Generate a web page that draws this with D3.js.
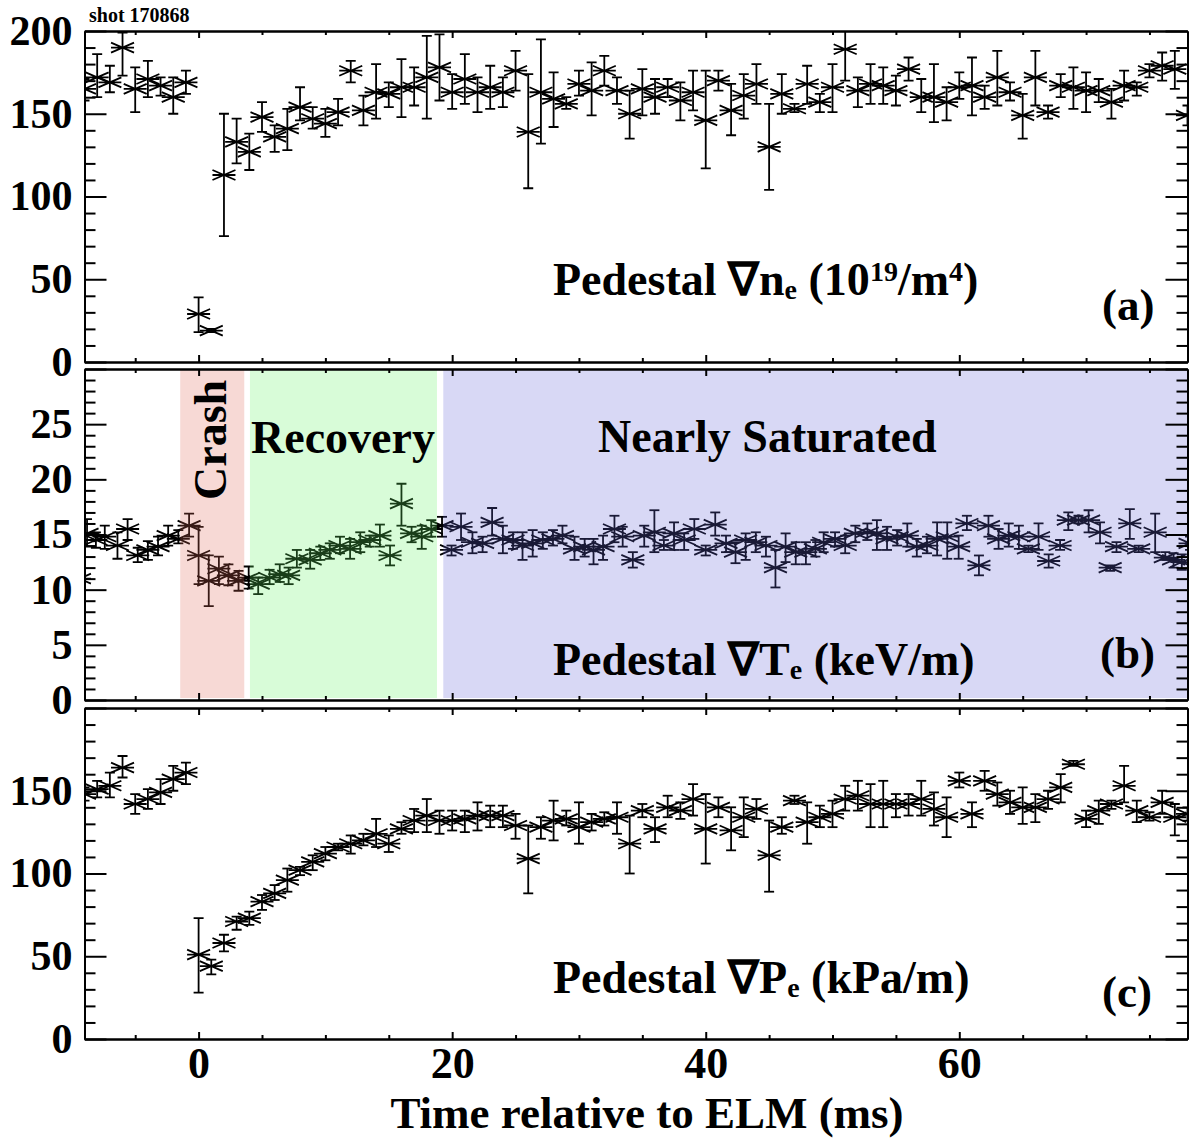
<!DOCTYPE html>
<html>
<head>
<meta charset="utf-8">
<script src="https://cdn.jsdelivr.net/npm/d3@7"></script>
<style>
  body { margin: 0; background: #fff; }
  text { font-family: "Liberation Serif", "Times New Roman", serif; font-weight: bold; }
</style>
</head>
<body>
<div id="chart"></div>
<script>
// ---- data ----
const timeDomain = [-9, 78];

// panels (a) and (c): one sample per ms
const timeAC = [-9,-8,-7,-6,-5,-4,-3,-2,-1,0,1,2,3,4,5,6,7,8,9,10,11,12,13,14,15,16,17,18,19,
  20,21,22,23,24,25,26,27,28,29,30,31,32,33,34,35,36,37,38,39,40,41,42,43,44,45,46,47,48,49,
  50,51,52,53,54,55,56,57,58,59,60,61,62,63,64,65,66,67,68,69,70,71,72,73,74,75,76,77,78];

// Pedestal grad ne (10^19/m^4)
const neVal = [165,172,169,190,165,171,167,160,169,
  29,19,113,133,127,148,136,141,154,147,
  144,151,176,152,163,162,166,166,172,178,
  163,171,163,166,163,176,139,163,159,156,
  168,164,176,164,150,165,160,166,158,163,
  146,170,152,161,168,130,162,153,168,157,
  166,189,164,168,167,164,177,160,160,157,
  166,167,160,172,163,149,172,151,167,166,
  164,164,157,167,166,176,179,177,149];
const neHi = [171,186,179,199,178,182,172,172,176,
  39,20,150,147,138,157,143,153,166,154,
  153,159,182,161,180,169,183,178,197,198,
  174,186,172,179,172,188,174,195,175,160,
  176,181,185,172,164,177,171,171,169,176,
  176,176,168,174,180,156,174,156,179,162,
  180,200,172,180,178,173,184,171,180,166,
  175,184,167,188,169,162,188,155,174,178,
  175,171,165,176,169,180,187,188,155];
const neLo = [158,160,163,173,151,160,161,150,162,
  18,18,76,120,116,139,127,128,146,141,
  136,143,169,143,147,154,148,155,147,158,
  153,156,151,153,154,164,105,132,142,153,
  161,149,167,156,135,149,150,160,146,152,
  117,164,137,147,156,104,150,151,156,151,
  151,170,154,156,156,155,170,151,145,146,
  159,149,153,155,158,135,155,147,160,153,
  151,157,147,158,161,172,170,165,143];

// Pedestal grad Te (keV/m), denser sampling
const timeB = [-9.4,-8.8,-8.1,-7.4,-6.4,-5.6,-4.8,-4.0,-3.2,-2.4,
  -1.6,-0.75,0.0,0.8,1.6,2.35,3.15,3.95,4.7,5.6,
  6.4,7.1,7.75,8.8,9.6,10.35,11.15,11.95,12.75,13.5,
  14.3,15.1,16.0,16.8,17.6,18.35,19.2,19.95,20.7,21.6,
  22.4,23.15,24.0,24.8,25.55,26.35,27.15,27.95,28.7,29.65,
  30.45,31.15,31.9,32.8,33.45,34.25,35.15,35.95,36.7,37.5,
  38.3,39.1,40.0,40.75,41.6,42.35,43.15,43.95,44.75,45.5,
  46.3,47.1,47.9,48.65,49.3,50.2,51.0,51.8,52.75,53.5,
  54.3,55.1,55.9,56.65,57.45,58.25,59.05,59.95,60.6,61.55,
  62.3,63.1,63.9,64.7,65.45,66.25,67.05,67.95,68.6,69.4,
  70.2,71.1,71.9,72.4,73.45,74.15,75.45,76.25,76.9,77.55,
  78.2];
const teVal = [11.0,15.1,14.5,14.8,14.0,15.5,13.1,13.6,13.9,14.9,
  14.6,15.8,13.1,10.8,11.9,11.3,10.8,11.1,10.5,11.1,
  11.4,11.3,12.8,12.7,13.3,13.6,14.0,13.7,14.3,14.5,
  14.9,13.1,17.8,15.1,14.8,15.5,15.8,13.6,15.7,14.3,
  14.2,16.1,14.6,14.5,14.0,14.2,14.5,14.6,14.9,13.7,
  13.9,13.6,13.9,15.5,14.8,12.7,14.9,15.2,14.0,15.1,
  14.5,15.5,13.6,15.9,14.2,13.4,14.5,14.3,14.0,12.0,
  13.9,13.4,13.4,13.7,14.3,14.6,14.0,15.1,15.2,15.1,
  14.6,14.8,14.9,13.9,14.0,14.6,14.8,13.9,16.0,12.2,
  15.8,14.6,14.9,14.8,13.7,14.8,12.6,14.0,16.3,16.3,
  16.3,15.2,12.0,13.9,16.0,13.7,15.2,12.9,12.7,12.5,
  14.2];
const teHi = [11.3,16.4,15.2,15.8,15.2,16.4,13.8,14.4,14.8,15.8,
  15.4,16.9,15.7,13.1,13.0,12.3,11.7,12.1,11.1,11.8,
  12.3,12.0,13.6,13.6,13.9,14.2,14.8,14.6,15.2,14.9,
  15.9,14.0,19.6,15.7,15.8,16.3,16.6,14.0,16.9,15.2,
  14.8,17.4,15.8,15.2,15.2,15.4,15.2,15.4,15.8,14.8,
  14.6,14.6,14.9,16.7,15.7,13.4,15.8,17.2,14.5,16.1,
  15.1,16.4,14.0,17.0,14.9,14.3,15.1,15.2,14.8,13.6,
  15.1,14.3,14.3,14.5,15.2,15.2,14.9,15.8,16.0,16.3,
  15.7,15.4,16.0,14.6,14.8,16.1,16.1,14.9,16.7,13.1,
  16.7,15.5,16.0,15.8,14.0,16.0,13.2,14.5,17.0,16.7,
  17.2,16.1,12.2,14.3,17.3,14.0,16.9,13.4,13.3,13.2,
  14.8];
const teLo = [10.7,13.9,13.8,13.7,12.8,14.5,12.5,12.7,13.1,14.0,
  14.2,14.8,10.5,8.5,10.5,10.4,9.9,10.1,9.6,10.5,
  10.7,10.5,12.0,11.9,12.7,12.8,13.3,12.8,13.4,13.9,
  13.9,12.2,15.8,14.3,13.7,14.8,14.8,13.1,14.5,13.3,
  13.4,14.9,13.3,13.7,12.7,13.0,13.7,14.0,14.2,12.7,
  13.0,12.3,12.7,14.3,13.9,12.0,13.9,13.4,13.6,13.6,
  13.6,14.6,13.1,14.9,13.4,12.4,12.7,13.4,13.0,10.2,
  12.5,12.3,12.3,13.0,13.4,13.9,13.3,14.3,14.5,13.6,
  13.6,14.0,13.9,13.0,13.3,13.1,12.8,12.8,15.4,11.3,
  14.8,13.7,13.9,13.7,13.4,13.6,12.0,13.6,15.4,16.0,
  15.2,14.2,11.7,13.4,14.6,13.4,13.4,12.7,12.0,11.8,
  13.6];

// Pedestal grad Pe (kPa/m)
const peVal = [148,151,153,164,142,145,149,157,161,
  51,44,58,71,73,83,88,96,102,107,
  112,116,118,120,124,118,127,132,135,132,
  132,133,135,135,135,129,109,128,132,133,
  128,131,133,134,118,138,127,140,138,145,
  127,140,126,134,139,111,128,144,131,134,
  136,145,147,142,142,142,142,145,139,134,
  156,136,156,148,143,140,140,145,152,166,
  133,138,142,153,138,134,143,134,136];
const peHi = [152,156,161,171,148,151,157,165,167,
  73,48,63,74,77,87,93,103,104,111,
  116,118,123,124,133,123,131,139,145,138,
  138,138,143,141,141,136,129,134,144,138,
  143,136,137,143,135,142,134,147,143,154,
  148,146,140,146,145,132,134,147,143,141,
  144,153,156,154,156,148,148,156,149,146,
  161,143,162,155,150,152,148,150,160,168,
  138,144,144,165,144,137,150,142,140];
const peLo = [144,146,146,158,136,139,142,150,154,
  28,39,53,66,69,78,84,89,99,102,
  108,114,112,117,116,113,124,125,125,124,
  126,125,126,128,128,121,88,121,120,129,
  118,126,129,124,100,134,119,134,133,135,
  106,134,114,122,133,89,124,142,118,128,
  128,138,138,128,128,134,135,135,129,122,
  152,128,150,141,136,130,131,139,143,165,
  128,130,139,143,131,132,136,123,132];

// ELM cycle phases shaded in panel (b)
const phaseNames = ["Crash", "Recovery", "Nearly Saturated"];
const phaseStart = [-1.45, 4.05, 19.3];
const phaseEnd = [3.6, 18.8, 78];
const phaseColors = ["rgb(224,104,88)", "rgb(100,244,100)", "rgb(100,100,216)"];

// tick labels
const xTickLabels = [0, 20, 40, 60];
const yLabelsA = [0, 50, 100, 150, 200];
const yLabelsB = [0, 5, 10, 15, 20, 25];
const yLabelsC = [0, 50, 100, 150];

// ---- drawing ----
const width = 1196, height = 1140;
const plotLeft = 84.5, plotRight = 1187.5;

const svg = d3.select("#chart").append("svg")
    .attr("width", width)
    .attr("height", height);

svg.append("rect").attr("width", width).attr("height", height).attr("fill", "#fff");

const x = d3.scaleLinear().domain(timeDomain).range([plotLeft, plotRight]);

const panels = [
    { id: "a", top: 31, bottom: 362, domain: [0, 200], major: 50, minor: 10, labels: yLabelsA,
      t: timeAC, v: neVal, hi: neHi, lo: neLo },
    { id: "b", top: 369, bottom: 700, domain: [0, 30], major: 5, minor: 1, labels: yLabelsB,
      t: timeB, v: teVal, hi: teHi, lo: teLo },
    { id: "c", top: 708, bottom: 1039, domain: [0, 200], major: 50, minor: 10, labels: yLabelsC,
      t: timeAC, v: peVal, hi: peHi, lo: peLo }
];

const markerPath = "M-11.5,0H11.5M-11.5,-5L11.5,5M-11.5,5L11.5,-5";

function styleAxis(g, fontSize) {
    g.attr("font-family", null).attr("font-size", null);
    g.select(".domain").attr("stroke", "#000").attr("stroke-width", 2);
    g.selectAll(".tick line").attr("stroke", "#000").attr("stroke-width", 2);
    g.selectAll(".tick text")
        .attr("fill", "#000")
        .style("font-size", fontSize + "px");
}

panels.forEach(p => {
    const y = d3.scaleLinear().domain(p.domain).range([p.bottom, p.top]);
    const g = svg.append("g").attr("class", "panel-" + p.id);

    g.append("clipPath").attr("id", "clip-" + p.id)
        .append("rect")
        .attr("x", plotLeft).attr("y", p.top)
        .attr("width", plotRight - plotLeft).attr("height", p.bottom - p.top);

    const data = p.t.map((t, i) => ({ t: t, v: p.v[i], hi: p.hi[i], lo: p.lo[i] }));
    const dataG = g.append("g").attr("clip-path", `url(#clip-${p.id})`);

    // error bars
    const eb = dataG.selectAll("g.err").data(data).join("g").attr("class", "err")
        .attr("stroke", "#000").attr("stroke-width", 1.8);
    eb.append("line")
        .attr("x1", d => x(d.t)).attr("x2", d => x(d.t))
        .attr("y1", d => y(d.hi)).attr("y2", d => y(d.lo));
    eb.append("line")
        .attr("x1", d => x(d.t) - 5).attr("x2", d => x(d.t) + 5)
        .attr("y1", d => y(d.hi)).attr("y2", d => y(d.hi));
    eb.append("line")
        .attr("x1", d => x(d.t) - 5).attr("x2", d => x(d.t) + 5)
        .attr("y1", d => y(d.lo)).attr("y2", d => y(d.lo));

    // asterisk markers
    dataG.selectAll("path.mark").data(data).join("path").attr("class", "mark")
        .attr("d", markerPath)
        .attr("transform", d => `translate(${x(d.t)},${y(d.v)})`)
        .attr("fill", "none")
        .attr("stroke", "#000")
        .attr("stroke-width", 1.8);

    // translucent phase bands in panel (b), laid over the data
    if (p.id === "b") {
        const bands = phaseNames.map((name, i) => ({ name, s: phaseStart[i], e: phaseEnd[i], c: phaseColors[i] }));
        g.selectAll("rect.phase").data(bands).join("rect").attr("class", "phase")
            .attr("x", d => x(d.s))
            .attr("width", d => x(d.e) - x(d.s))
            .attr("y", p.top + 1)
            .attr("height", p.bottom - p.top - 3)
            .attr("fill", d => d.c)
            .attr("fill-opacity", 0.25);

        g.append("text")
            .attr("transform", "translate(226,500) rotate(-90)")
            .style("font-size", "46px")
            .text(phaseNames[0]);
        g.append("text")
            .attr("x", 251).attr("y", 453)
            .style("font-size", "46px")
            .text(phaseNames[1]);
        g.append("text")
            .attr("x", 598).attr("y", 452)
            .style("font-size", "46px")
            .text(phaseNames[2]);
    }

    // axes: ticks point inward on all four sides
    const yMajor = d3.range(p.domain[0], p.domain[1] + 1e-9, p.major);
    const yMinor = d3.range(p.domain[0], p.domain[1] + 1e-9, p.minor).filter(v => !yMajor.includes(v));
    const xMajor = [0, 20, 40, 60];
    const xMinor = d3.range(-5, 78, 5).filter(v => !xMajor.includes(v));

    const labelFmt = d => p.labels.includes(d) ? d3.format("d")(d) : "";

    g.append("g").attr("transform", `translate(${plotLeft},0)`)
        .call(d3.axisLeft(y).tickValues(yMinor).tickSize(-11).tickSizeOuter(0).tickFormat(""))
        .call(s => styleAxis(s, 42));
    g.append("g").attr("transform", `translate(${plotLeft},0)`)
        .call(d3.axisLeft(y).tickValues(yMajor).tickSize(-22).tickSizeOuter(0).tickPadding(12).tickFormat(labelFmt))
        .call(s => styleAxis(s, 42));
    g.append("g").attr("transform", `translate(${plotRight},0)`)
        .call(d3.axisRight(y).tickValues(yMinor).tickSize(-11).tickSizeOuter(0).tickFormat(""))
        .call(s => styleAxis(s, 42));
    g.append("g").attr("transform", `translate(${plotRight},0)`)
        .call(d3.axisRight(y).tickValues(yMajor).tickSize(-22).tickSizeOuter(0).tickFormat(""))
        .call(s => styleAxis(s, 42));

    g.append("g").attr("transform", `translate(0,${p.top})`)
        .call(d3.axisTop(x).tickValues(xMinor).tickSize(-4).tickSizeOuter(0).tickFormat(""))
        .call(s => styleAxis(s, 44));
    g.append("g").attr("transform", `translate(0,${p.top})`)
        .call(d3.axisTop(x).tickValues(xMajor).tickSize(-7).tickSizeOuter(0).tickFormat(""))
        .call(s => styleAxis(s, 44));
    g.append("g").attr("transform", `translate(0,${p.bottom})`)
        .call(d3.axisBottom(x).tickValues(xMinor).tickSize(-4).tickSizeOuter(0).tickFormat(""))
        .call(s => styleAxis(s, 44));
    g.append("g").attr("transform", `translate(0,${p.bottom})`)
        .call(d3.axisBottom(x).tickValues(p.id === "c" ? xTickLabels : xMajor)
            .tickSize(-7).tickSizeOuter(0).tickPadding(8)
            .tickFormat(p.id === "c" ? d3.format("d") : ""))
        .call(s => styleAxis(s, 44));
});

// panel titles
function title(xPos, yPos, main, sub, rest, sups) {
    const t = svg.append("text").attr("x", xPos).attr("y", yPos).style("font-size", "46px");
    t.append("tspan").text(main);
    t.append("tspan").attr("dy", 4).style("font-size", "28px").text(sub);
    if (sups) {
        t.append("tspan").attr("dy", -4).text(" (10");
        t.append("tspan").attr("dy", -14).style("font-size", "28px").text("19");
        t.append("tspan").attr("dy", 14).text("/m");
        t.append("tspan").attr("dy", -14).style("font-size", "28px").text("4");
        t.append("tspan").attr("dy", 14).text(")");
    } else {
        t.append("tspan").attr("dy", -4).text(rest);
    }
}
title(553, 295, "Pedestal \u2207n", "e", "", true);
title(553, 675, "Pedestal \u2207T", "e", " (keV/m)", false);
title(553, 993, "Pedestal \u2207P", "e", " (kPa/m)", false);

svg.append("text").attr("x", 1102).attr("y", 320).style("font-size", "45px").text("(a)");
svg.append("text").attr("x", 1100).attr("y", 668).style("font-size", "45px").text("(b)");
svg.append("text").attr("x", 1102).attr("y", 1007).style("font-size", "45px").text("(c)");

svg.append("text").attr("x", 89).attr("y", 22).style("font-size", "20px").text("shot 170868");

svg.append("text")
    .attr("x", 647).attr("y", 1128)
    .attr("text-anchor", "middle")
    .style("font-size", "45px")
    .text("Time relative to ELM (ms)");
</script>
</body>
</html>
